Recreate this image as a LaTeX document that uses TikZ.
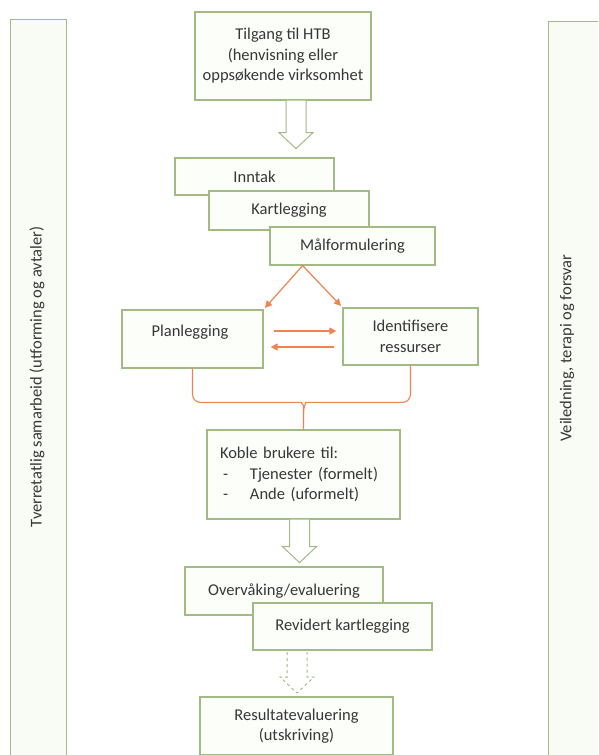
\documentclass[tikz,border=0pt]{standalone}
\usepackage{fontspec}
\setmainfont{Carlito}
\usetikzlibrary{arrows.meta,calc}
\definecolor{boxline}{RGB}{162,186,132}
\definecolor{boxfill}{RGB}{252,254,249}
\definecolor{barfill}{RGB}{248,252,244}
\definecolor{orangeline}{RGB}{238,132,80}
\definecolor{txt}{RGB}{55,55,55}
\newcommand\mybxfont{\fontsize{16.5}{20.5}\selectfont}
\newcommand\mysidefont{\fontsize{16.5}{19}\selectfont}
\tikzset{
  box/.style={draw=boxline, line width=1.2pt, fill=boxfill, text=txt, inner sep=0pt, align=center, font=\mybxfont},
  bar/.style={draw=boxline, line width=1.2pt, fill=barfill, inner sep=0pt},
  sidetext/.style={text=txt, font=\mysidefont, rotate=90, inner sep=0pt},
  boxtext/.style={text=txt, font=\mybxfont, inner sep=0pt, align=center},
  oarrow/.style={draw=orangeline, line width=1.2pt, -{Triangle[length=7pt,width=7pt]}},
  brace/.style={draw=orangeline, line width=1.1pt, rounded corners=8pt},
  blockarrow/.style={draw=boxline, line width=1pt, fill=white, line join=miter},
  dashedblock/.style={draw=boxline, line width=1pt, fill=white, dashed, dash pattern=on 3pt off 3pt},
  pics/hollowdown/.style 2 args={code={
    \filldraw[#2] (-10,0) -- (-10,{#1-16}) -- (-17,{#1-16}) -- (0,#1) -- (17,{#1-16}) -- (10,{#1-16}) -- (10,0);
  }},
}
\begin{document}
\begin{tikzpicture}[x=1pt,y=-1pt]
\useasboundingbox (0,0) rectangle (598,755);
\clip (0,0) rectangle (598,755);
\fill[white] (0,0) rectangle (598,755);

% side bars
\node[bar, minimum width=56, minimum height=760, anchor=north west] (lbar) at (10,19) {};
\node[bar, minimum width=70, minimum height=760, anchor=north west] (rbar) at (548,21) {};
\node[sidetext] (ltext) at (37,377) {Tverretatlig samarbeid (utforming og avtaler)};
\node[sidetext] (rtext) at (567,348) {Veiledning, terapi og forsvar};

% top box
\node[box, minimum width=176, minimum height=88] (tilgang) at (283,56) {Tilgang til HTB\\(henvisning eller\\oppsøkende virksomhet};
\pic at ($(tilgang.south)+(13,0)$) {hollowdown={48}{blockarrow}};

% stacked boxes
\node[box, minimum width=159, minimum height=37] (inntak) at (254.5,176.5) {Inntak};
\node[box, minimum width=160, minimum height=39] (kart) at (289,210.5) {Kartlegging};
\node[box, minimum width=165, minimum height=38] (mal) at (352.5,246) {Målformulering};

% planning row
\node[box, minimum width=141, minimum height=58] (plan) at (192.5,339) {};
\node[boxtext] (plantxt) at (190,332) {Planlegging};
\node[box, minimum width=135, minimum height=57] (ident) at (410.5,336.5) {Identifisere\\ressurser};

\coordinate (malb) at ($(mal.south west)!0.2!(mal.south east)$);
\draw[oarrow, shorten >=2pt] (malb) -- (plan.north east);
\draw[oarrow, shorten >=2pt] (malb) -- (ident.north west);
\draw[oarrow] ($(plan.east)+(10,-8)$) -- ($(ident.west |- plan.east)+(-6,-8)$);
\draw[oarrow] ($(ident.west |- plan.east)+(-8,8)$) -- ($(plan.east)+(7,8)$);

% koble box
\node[box, minimum width=193, minimum height=89, align=left, text width=167] (koble) at (303.5,474.5) {Koble brukere til:\\\hspace*{3pt}\makebox[27pt][l]{-}Tjenester (formelt)\\\hspace*{3pt}\makebox[27pt][l]{-}Ande (uformelt)};

% brace
\coordinate (btip) at ($(koble.north)+(0,-16)$);
\draw[brace] (plan.south) -- ($(plan.south |- btip)+(0,-11)$) -- ($(btip)+(-10,-11)$) .. controls ($(btip)+(-3,-11)$) and ($(btip)+(0,-8)$) .. (btip) -- (koble.north);
\draw[brace] (ident.south) -- ($(ident.south |- btip)+(0,-11)$) -- ($(btip)+(10,-11)$) .. controls ($(btip)+(3,-11)$) and ($(btip)+(0,-8)$) .. (btip);

\pic at ($(koble.south)+(-4,0)$) {hollowdown={43}{blockarrow}};

% monitoring
\node[box, minimum width=198, minimum height=48] (over) at (284,591) {Overvåking/evaluering};
\node[box, minimum width=179, minimum height=47] (rev) at (342.5,626.5) {Revidert kartlegging};
\pic at (297,652) {hollowdown={41}{dashedblock}};

\node[box, minimum width=193, minimum height=58] (res) at (296.5,726) {Resultatevaluering\\(utskriving)};
\end{tikzpicture}
\end{document}
